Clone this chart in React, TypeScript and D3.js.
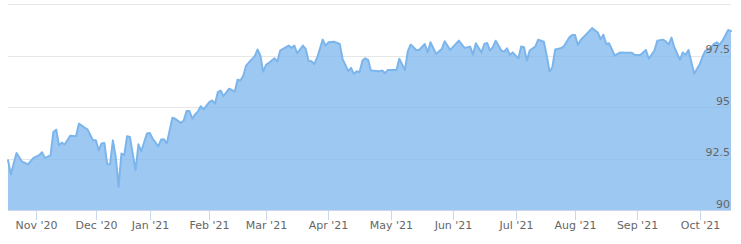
import React from "react";
import * as d3 from "d3";

// trading-day index of each sampled point
const dayIndex = [
  0, 1, 3, 5, 6, 7, 9, 11, 12, 13, 15, 16, 17, 18, 19, 20, 22, 24, 25, 27, 28, 30,
  31, 32, 33, 34, 35, 36, 37, 38, 39, 40, 41, 42, 43, 45, 46, 47, 49, 50, 51, 53,
  54, 55, 56, 58, 59, 61, 62, 63, 64, 65, 66, 67, 68, 69, 71, 72, 73, 74, 75, 76,
  78, 80, 81, 82, 83, 84, 85, 87, 88, 89, 90, 91, 92, 93, 94, 95, 96, 97, 99, 100,
  101, 102, 104, 105, 106, 107, 108, 109, 111, 112, 113, 115, 117, 118, 120, 121,
  122, 123, 124, 125, 126, 127, 128, 131, 132, 133, 134, 137, 138, 140, 141, 142,
  144, 145, 147, 148, 149, 151, 153, 154, 156, 159, 161, 163, 164, 165, 167, 168,
  169, 170, 171, 172, 174, 175, 176, 177, 178, 180, 181, 182, 183, 184, 186, 187,
  189, 190, 191, 192, 193, 195, 196, 198, 199, 200, 201, 202, 204, 206, 208, 209,
  210, 211, 212, 214, 216, 218, 220, 221, 223, 225, 226, 228, 229, 231, 232, 233,
  234, 235, 237, 238, 239, 240, 242, 244, 245, 246, 248, 249, 250, 251, 252, 254, 255,
];

const price = [
  92.42, 91.73, 92.77, 92.34, 92.29, 92.21, 92.53, 92.66, 92.8, 92.53, 92.65, 93.79,
  93.9, 93.14, 93.27, 93.18, 93.61, 93.58, 94.19, 94.0, 93.92, 93.38, 93.38, 92.9,
  93.23, 93.25, 92.22, 92.22, 93.38, 92.58, 91.13, 92.74, 92.66, 93.58, 93.54, 91.93,
  93.19, 92.85, 93.71, 93.74, 93.47, 93.09, 93.42, 93.43, 93.23, 94.48, 94.43, 94.22,
  94.35, 94.8, 94.8, 94.43, 94.64, 94.79, 95.04, 94.88, 95.24, 95.32, 95.16, 95.72,
  95.8, 95.53, 95.89, 95.75, 96.33, 96.29, 96.53, 97.01, 97.17, 97.46, 97.79, 97.5,
  96.72, 97.05, 97.14, 97.25, 97.36, 97.21, 97.74, 97.82, 97.98, 97.87, 97.98, 97.61,
  97.98, 97.82, 97.25, 97.22, 97.09, 97.38, 98.27, 97.98, 98.14, 98.17, 98.06, 97.34,
  96.74, 96.9, 96.61, 96.74, 96.69, 97.25, 97.36, 97.29, 96.77, 96.74, 96.77, 96.64,
  96.8, 96.8, 97.34, 96.8, 97.7, 98.03, 97.77, 97.77, 98.06, 97.65, 98.14, 97.58,
  97.82, 98.19, 97.77, 98.22, 97.87, 97.93, 97.54, 98.09, 97.65, 98.06, 98.11, 97.74,
  97.9, 98.22, 97.74, 97.69, 97.85, 97.53, 97.65, 97.36, 97.94, 97.9, 97.25, 97.74,
  97.94, 98.27, 98.17, 97.5, 96.72, 96.93, 97.79, 97.85, 97.94, 98.38, 98.5, 98.49,
  98.01, 98.25, 98.54, 98.83, 98.62, 98.3, 98.51, 98.06, 98.09, 97.5, 97.65, 97.63,
  97.63, 97.53, 97.53, 97.77, 97.34, 97.74, 98.22, 98.27, 98.19, 98.03, 98.37, 97.9,
  97.29, 97.65, 97.54, 97.77, 96.61, 97.09, 97.45, 97.74, 97.9, 98.06, 98.14, 98.03,
  98.22, 98.74, 98.68,
];

const monthTickIndex = [10, 31, 50, 71, 91, 113, 135, 157, 179, 200, 222, 244];
const monthTickLabels = [
  "Nov '20", "Dec '20", "Jan '21", "Feb '21", "Mar '21", "Apr '21",
  "May '21", "Jun '21", "Jul '21", "Aug '21", "Sep '21", "Oct '21",
];
const yTickValues = [90, 92.5, 95, 97.5, 100];
const yTickLabels = ["90", "92.5", "95", "97.5", ""];

export default function App() {
  const W = 741;
  const H = 244;
  const left = 8;
  const right = 731;
  const top = 4;
  const bottom = 210;

  const x = d3.scaleLinear().domain([0, 255]).range([left, right]);
  const y = d3.scaleLinear().domain([90, 100]).range([bottom, top]);

  const data = dayIndex.map((d, i) => ({ i: d, v: price[i] }));
  const areaGen = d3
    .area<{ i: number; v: number }>()
    .x((d) => x(d.i))
    .y0(y(90))
    .y1((d) => y(d.v));
  const lineGen = d3
    .line<{ i: number; v: number }>()
    .x((d) => x(d.i))
    .y((d) => y(d.v));

  const font = "'DejaVu Sans', sans-serif";

  return (
    <svg
      width={W}
      height={H}
      style={{ position: "absolute", left: 0, top: 0, display: "block", background: "#fff" }}
    >
      {yTickValues.map((t, k) => (
        <line
          key={"g" + k}
          x1={left}
          x2={right}
          y1={Math.round(y(t)) + 0.5}
          y2={Math.round(y(t)) + 0.5}
          stroke="#e6e6e6"
          strokeWidth={1}
        />
      ))}
      <path d={areaGen(data) || ""} fill="#7cb5ec" fillOpacity={0.75} />
      <path
        d={lineGen(data) || ""}
        fill="none"
        stroke="#7cb5ec"
        strokeWidth={2}
        strokeLinejoin="round"
        strokeLinecap="round"
      />
      <line x1={left} x2={right} y1={bottom + 0.5} y2={bottom + 0.5} stroke="#ccd6eb" strokeWidth={1} />
      {monthTickIndex.map((t, k) => {
        const px = Math.round(x(t)) + 0.5;
        return (
          <g key={"x" + k}>
            <line x1={px} x2={px} y1={bottom} y2={bottom + 10} stroke="#ccd6eb" strokeWidth={1} />
            <text
              x={px}
              y={229}
              textAnchor="middle"
              fontFamily={font}
              fontSize={11}
              fill="#666666"
            >
              {monthTickLabels[k]}
            </text>
          </g>
        );
      })}
      {yTickValues.map((t, k) =>
        yTickLabels[k] ? (
          <text
            key={"y" + k}
            x={730}
            y={y(t) - 2.5}
            textAnchor="end"
            fontFamily={font}
            fontSize={11}
            fill="#666666"
          >
            {yTickLabels[k]}
          </text>
        ) : null
      )}
    </svg>
  );
}
